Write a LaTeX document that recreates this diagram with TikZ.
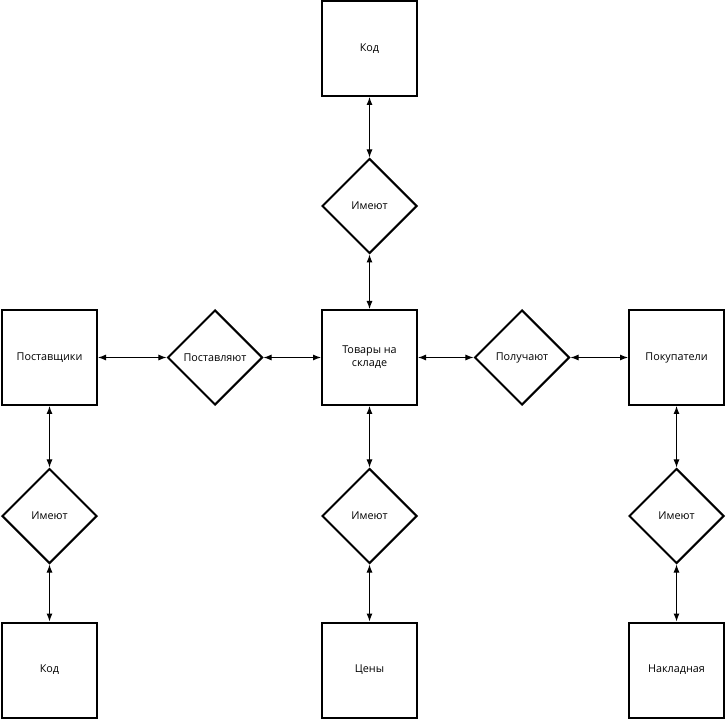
\documentclass[tikz,border=0pt]{standalone}
\usepackage{fontspec}
\setmainfont{Open Sans}
\usetikzlibrary{shapes.geometric,arrows.meta}
\begin{document}
\begin{tikzpicture}[x=1pt,y=-1pt,
  ent/.style={draw,line width=2pt,minimum width=95pt,minimum height=95pt,inner sep=0pt,font=\fontsize{10.8}{13}\selectfont,align=center},
  rel/.style={draw,diamond,aspect=1,line width=2pt,minimum width=95pt,minimum height=95pt,inner sep=0pt,font=\fontsize{10.8}{13}\selectfont},
  link/.style={line width=1pt,{Latex[length=8pt,width=6pt]}-{Latex[length=8pt,width=6pt]}}]
\useasboundingbox (0,0) rectangle (726,719);
\node[ent] (kod1) at (369.5,48.5) {Код};
\node[rel] (im1) at (369.5,206) {Имеют};
\node[ent] (tov) at (369.5,357.5) {Товары на\\складе};
\node[ent] (post) at (49.5,357.5) {Поставщики};
\node[rel] (postv) at (215,357.5) {Поставляют};
\node[rel] (pol) at (522,357.5) {Получают};
\node[ent] (pok) at (676.5,357.5) {Покупатели};
\node[rel] (im2) at (49.5,516) {Имеют};
\node[rel] (im3) at (369.5,516) {Имеют};
\node[rel] (im4) at (676.5,516) {Имеют};
\node[ent] (kod2) at (49.5,670) {Код};
\node[ent] (cen) at (369.5,670) {Цены};
\node[ent] (nak) at (676.5,670) {Накладная};
\draw[link] (kod1) -- (im1);
\draw[link] (im1) -- (tov);
\draw[link] (post) -- (postv);
\draw[link] (postv) -- (tov);
\draw[link] (tov) -- (pol);
\draw[link] (pol) -- (pok);
\draw[link] (post) -- (im2);
\draw[link] (im2) -- (kod2);
\draw[link] (tov) -- (im3);
\draw[link] (im3) -- (cen);
\draw[link] (pok) -- (im4);
\draw[link] (im4) -- (nak);
\end{tikzpicture}
\end{document}
